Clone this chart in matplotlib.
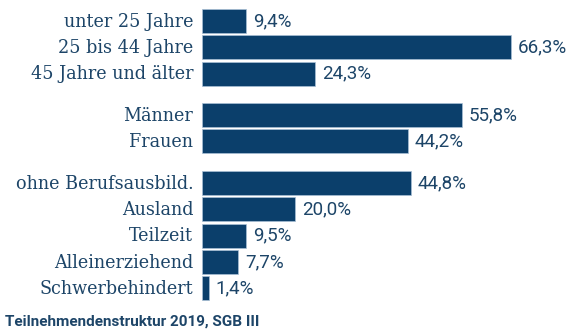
import numpy as np
import matplotlib.pyplot as plt

# data
groups = [
    ['unter 25 Jahre', '25 bis 44 Jahre', '45 Jahre und älter'],
    ['Männer', 'Frauen'],
    ['ohne Berufsausbild.', 'Ausland', 'Teilzeit', 'Alleinerziehend', 'Schwerbehindert'],
]
values = [
    [9.4, 66.3, 24.3],
    [55.8, 44.2],
    [44.8, 20.0, 9.5, 7.7, 1.4],
]
footer = 'Teilnehmendenstruktur 2019, SGB III'

bar_col = '#0b3f6b'
txt_col = '#1d4568'
gap = 0.58  # extra space between groups, in rows

labels = []
vals = []
ypos = []
y = 0.0
for g, v in zip(groups, values):
    for lab, val in zip(g, v):
        labels.append(lab)
        vals.append(val)
        ypos.append(y)
        y += 1
    y += gap

fig = plt.figure(figsize=(5.76, 3.34), dpi=100)
ax = fig.add_axes([202/576, 0, 1 - 202/576, 1])
ax.barh(ypos, vals, height=0.91, color=bar_col, edgecolor='#a9c0d6', linewidth=0.5)
ax.set_xlim(0, 374/4.656)
ax.set_ylim((334-21)/26.3, -21/26.3)
ax.axis('off')

for yy, lab, val in zip(ypos, labels, vals):
    ax.text(-1.9, yy + 0.03, lab, ha='right', va='center', fontsize=14,
            family='DejaVu Serif', fontstretch='condensed', color=txt_col)
    ax.text(val + 1.5, yy, ('%.1f%%' % val).replace('.', ','), ha='left', va='center',
            fontsize=13.5, family='Roboto', color=txt_col)

fig.text(5/576, 1 - 322/334, footer, ha='left', va='center', fontsize=11,
         family='Roboto', fontweight='bold', color=txt_col)

fig.savefig('out.png', dpi=100)
